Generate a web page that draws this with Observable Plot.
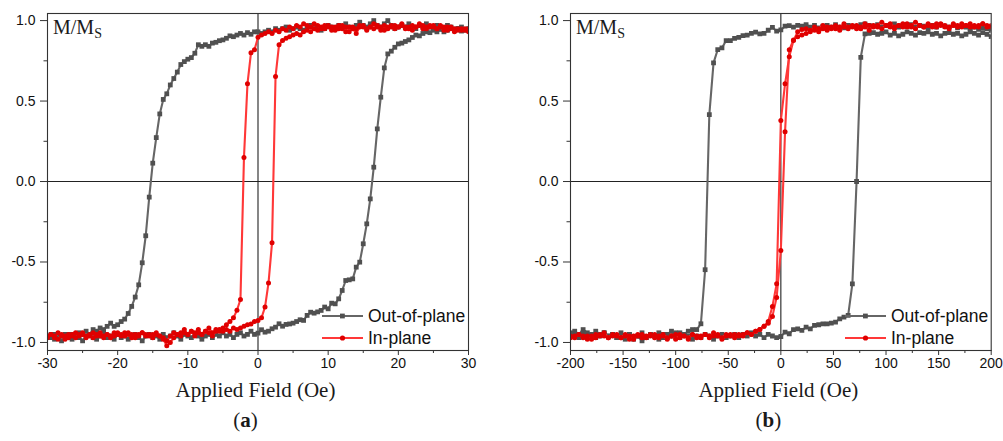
<!DOCTYPE html>
<html><head><meta charset="utf-8">
<script src="https://cdn.jsdelivr.net/npm/d3@7"></script>
<script src="https://cdn.jsdelivr.net/npm/@observablehq/plot@0.6"></script>
<style>
html,body{margin:0;padding:0;background:#fff;}
#root{position:relative;width:1003px;height:441px;overflow:hidden;background:#fff;}
.panel{position:absolute;top:0;height:441px;}
.panel svg{display:block;}
.serif{font-family:"Liberation Serif","Times New Roman",serif;color:#1a1a1a;white-space:nowrap;position:absolute;line-height:1;}
.xtitle{font-size:21px;transform:translateX(-50%);}
.cap{font-size:21px;transform:translateX(-50%);}
.mms{font-size:20px;}
.mms sub{font-size:14px;vertical-align:-4px;line-height:0;}
.legend{position:absolute;}
</style></head><body><div id="root"></div>
<script>
// ---- Panel (a): applied field sweep (Oe) and normalised magnetisation ----
const fieldA = [-30,-29.5,-29,-28.5,-28,-27.5,-27,-26.5,-26,-25.5,-25,-24.5,-24,-23.5,-23,-22.5,-22,-21.5,-21,-20.5,-20,-19.5,-19,-18.5,-18,-17.5,-17,-16.5,-16,-15.5,-15,-14.5,-14,-13.5,-13,-12.5,-12,-11.5,-11,-10.5,-10,-9.5,-9,-8.5,-8,-7.5,-7,-6.5,-6,-5.5,-5,-4.5,-4,-3.5,-3,-2.5,-2,-1.5,-1,-0.5,0,0.5,1,1.5,2,2.5,3,3.5,4,4.5,5,5.5,6,6.5,7,7.5,8,8.5,9,9.5,10,10.5,11,11.5,12,12.5,13,13.5,14,14.5,15,15.5,16,16.5,17,17.5,18,18.5,19,19.5,20,20.5,21,21.5,22,22.5,23,23.5,24,24.5,25,25.5,26,26.5,27,27.5,28,28.5,29,29.5,30];
const outOfPlaneDownA = [-0.96,-0.97,-0.95,-0.97,-0.96,-0.95,-0.97,-0.95,-0.96,-0.94,-0.95,-0.93,-0.95,-0.92,-0.93,-0.91,-0.92,-0.90,-0.88,-0.90,-0.89,
 -0.87,-0.855,-0.82,-0.776,-0.718,-0.642,-0.505,-0.337,-0.097,0.114,0.273,0.42,0.51,0.545,0.60,0.64,0.68,0.727,0.745,0.76,
 0.77,0.797,0.85,0.84,0.85,0.84,0.86,0.865,0.875,0.88,0.89,0.905,0.90,0.91,0.92,0.91,0.925,0.915,0.93,0.93,
 0.92,0.93,0.94,0.93,0.95,0.94,0.95,0.96,0.94,0.95,0.96,0.95,0.94,0.96,0.97,0.95,0.96,0.94,0.95,0.97,
 0.96,0.95,0.97,0.96,0.98,0.96,0.95,0.97,0.99,0.97,0.96,0.98,1.0,0.97,0.96,0.98,1.0,0.97,0.95,0.96,
 0.97,0.96,0.98,0.96,0.95,0.97,0.96,0.98,0.96,0.95,0.97,0.96,0.95,0.97,0.96,0.94,0.95,0.96,0.94,0.95];
const outOfPlaneUpA = [-0.97,-0.95,-0.98,-0.96,-0.99,-0.97,-0.95,-0.98,-0.96,-0.97,-0.99,-0.96,-0.95,-0.97,-0.98,-0.96,-0.94,-0.97,-0.96,-0.98,
 -0.95,-0.97,-0.96,-0.98,-0.96,-0.95,-0.97,-0.99,-0.96,-0.95,-0.97,-0.96,-0.98,-0.95,-0.97,-0.96,-0.94,-0.96,-0.98,-0.95,
 -0.96,-0.97,-0.95,-0.96,-0.98,-0.96,-0.95,-0.97,-0.95,-0.96,-0.94,-0.96,-0.95,-0.97,-0.95,-0.94,-0.96,-0.95,-0.93,-0.95,
 -0.942,-0.921,-0.936,-0.93,-0.915,-0.905,-0.884,-0.899,-0.888,-0.885,-0.88,-0.87,-0.859,-0.863,-0.832,-0.812,-0.818,-0.81,-0.801,-0.78,
 -0.791,-0.756,-0.76,-0.729,-0.677,-0.615,-0.611,-0.605,-0.532,-0.501,-0.387,-0.263,-0.108,0.089,0.327,0.524,0.706,0.793,0.81,0.834,
 0.855,0.86,0.87,0.88,0.895,0.91,0.905,0.92,0.93,0.925,0.94,0.93,0.945,0.93,0.94,0.955,0.94,0.95,0.935,0.945,0.94];
const inPlaneDownA = [-0.96,-0.95,-0.97,-0.94,-0.96,-0.98,-0.95,-0.96,-0.97,-0.95,-0.94,-0.96,-0.95,-0.97,-0.96,-0.94,-0.96,-0.95,-0.97,-0.96,
 -0.94,-0.95,-0.96,-0.94,-0.95,-0.97,-0.95,-0.94,-0.96,-0.95,-0.97,-0.95,-0.96,-0.98,-1.02,-1.0,-0.97,-0.95,-0.94,-0.92,
 -0.95,-0.93,-0.94,-0.92,-0.95,-0.93,-0.91,-0.94,-0.92,-0.93,-0.91,-0.89,
 -0.87,-0.847,-0.80,-0.733,0.149,0.607,0.80,0.818,0.896,
 0.91,0.92,0.93,0.92,0.94,0.93,0.95,0.94,0.96,0.95,0.97,0.96,0.98,0.97,0.96,0.98,0.97,0.95,0.97,0.96,
 0.94,0.96,0.95,0.97,0.93,0.96,0.95,0.92,0.96,0.97,0.95,0.96,0.98,0.96,0.94,0.97,0.95,0.96,0.97,0.96,
 0.98,0.96,0.95,0.97,0.96,0.98,0.97,0.95,0.96,0.97,0.95,0.96,0.94,0.96,0.95,0.93,0.95,0.94,0.95,0.93];
const inPlaneUpA = [-0.97,-0.95,-0.96,-0.98,-0.95,-0.96,-0.97,-0.95,-0.94,-0.96,-0.95,-0.97,-0.96,-0.94,-0.95,-0.96,-0.97,-0.95,-0.96,-0.94,
 -0.95,-0.96,-0.94,-0.95,-0.97,-0.95,-0.96,-0.94,-0.95,-0.96,-0.95,-0.94,-0.96,-0.97,-0.99,-0.96,-0.94,-0.95,-0.96,-0.94,
 -0.95,-0.93,-0.96,-0.94,-0.95,-0.93,-0.94,-0.96,-0.93,-0.92,-0.93,-0.92,-0.93,-0.91,-0.92,
 -0.91,-0.90,-0.89,-0.885,-0.87,-0.863,-0.847,-0.78,-0.63,-0.381,0.652,0.85,0.876,0.89,
 0.90,0.91,0.92,0.91,0.93,0.94,0.93,0.95,0.94,0.96,0.95,0.97,0.96,0.94,0.97,0.95,0.96,0.93,0.96,0.95,
 0.97,0.96,0.94,0.96,0.95,0.97,0.96,0.94,0.96,0.97,0.95,0.96,0.97,0.95,0.96,0.94,0.96,0.97,0.95,0.96,
 0.97,0.96,0.95,0.97,0.96,0.94,0.96,0.95,0.94,0.95,0.94,0.95];

// ---- Panel (b) ----
const fieldB = [-200,-196,-192,-188,-184,-180,-176,-172,-168,-164,-160,-156,-152,-148,-144,-140,-136,-132,-128,-124,-120,-116,-112,-108,-104,-100,-96,-92,-88,-84,-80,-76,-72,-68,-64,-60,-56,-52,-48,-44,-40,-36,-32,-28,-24,-20,-16,-12,-8,-4,0,4,8,12,16,20,24,28,32,36,40,44,48,52,56,60,64,68,72,76,80,84,88,92,96,100,104,108,112,116,120,124,128,132,136,140,144,148,152,156,160,164,168,172,176,180,184,188,192,196,200];
const outOfPlaneDownB = [-0.94,-0.93,-0.95,-0.92,-0.94,-0.96,-0.93,-0.95,-0.94,-0.96,-0.95,-0.97,-0.94,-0.96,-0.95,-0.98,-0.96,-0.94,-0.97,-0.95,
 -0.96,-0.94,-0.97,-0.95,-0.93,-0.96,-0.94,-0.95,-0.93,-0.92,-0.92,
 -0.884,-0.548,0.416,0.737,0.82,0.83,0.876,0.876,0.89,0.896,0.907,0.91,0.92,0.928,0.917,0.921,0.94,0.958,0.934,0.942,
 0.965,0.969,0.96,0.97,0.965,0.975,0.96,0.97,0.955,0.965,0.97,0.96,0.975,0.96,0.955,0.97,0.965,0.96,0.975,0.98,
 0.97,0.965,0.975,0.96,0.97,0.965,0.98,0.96,0.97,0.965,0.975,0.96,0.97,0.965,0.955,0.97,0.96,0.975,0.965,0.96,
 0.97,0.955,0.965,0.96,0.95,0.96,0.945,0.955,0.95,0.94];
const outOfPlaneUpB = [-0.96,-0.95,-0.97,-0.94,-0.96,-0.95,-0.97,-0.96,-0.94,-0.96,-0.95,-0.97,-0.96,-0.98,-0.95,-0.97,-0.96,-0.99,-0.97,-0.95,
 -0.96,-0.98,-0.95,-0.97,-0.96,-0.94,-0.97,-0.95,-0.96,-0.98,-0.96,-0.97,-0.95,-0.96,-0.98,-0.96,-0.95,-0.97,-0.96,-0.95,
 -0.97,-0.95,-0.96,-0.94,-0.96,-0.95,-0.97,-0.95,-0.96,-0.97,-0.963,
 -0.936,-0.946,-0.92,-0.915,-0.925,-0.905,-0.915,-0.894,-0.89,-0.884,-0.884,-0.88,-0.874,-0.853,-0.843,-0.832,-0.636,0.0,0.772,0.917,0.92,
 0.925,0.915,0.92,0.93,0.91,0.92,0.905,0.915,0.93,0.92,0.91,0.925,0.92,0.93,0.915,0.92,0.905,0.92,0.925,0.915,
 0.92,0.905,0.915,0.93,0.92,0.91,0.925,0.915,0.90];
const inPlaneDownB = [-0.97,-0.96,-0.95,-0.97,-0.96,-0.98,-0.95,-0.96,-0.94,-0.97,-0.96,-0.95,-0.97,-0.96,-0.98,-0.96,-0.95,-0.97,-0.96,-0.95,
 -0.97,-0.96,-0.95,-0.97,-0.96,-0.98,-0.95,-0.96,-0.97,-0.95,-0.96,-0.97,-0.95,-0.96,-0.94,-0.96,-0.97,-0.95,-0.96,-0.95,
 -0.96,-0.95,-0.94,-0.95,-0.93,-0.92,-0.90,-0.87,
 -0.776,-0.636,0.379,0.607,0.776,0.876,0.93,0.945,
 0.95,0.94,0.96,0.95,0.97,0.96,0.95,0.97,0.96,0.98,0.96,0.97,0.95,0.96,0.98,0.97,0.96,0.97,0.99,0.97,
 0.98,0.96,0.97,0.98,0.96,0.97,0.99,0.97,0.96,0.98,0.97,0.96,0.98,0.97,0.96,0.98,0.97,0.96,0.97,0.98,
 0.96,0.97,0.98,0.96,0.97];
const inPlaneUpB = [-0.96,-0.97,-0.95,-0.96,-0.98,-0.96,-0.97,-0.95,-0.96,-0.97,-0.95,-0.96,-0.97,-0.95,-0.96,-0.98,-0.96,-0.95,-0.97,-0.96,
 -0.95,-0.97,-0.96,-0.98,-0.96,-0.95,-0.97,-0.96,-0.98,-0.95,-0.97,-0.96,-0.95,-0.97,-0.96,-0.95,-0.98,-0.96,-0.95,-0.97,
 -0.95,-0.96,-0.94,-0.95,-0.93,-0.92,-0.90,
 -0.88,-0.838,-0.72,-0.429,0.31,0.818,0.88,0.90,0.91,
 0.92,0.93,0.94,0.93,0.95,0.94,0.96,0.95,0.94,0.96,0.95,0.96,0.97,0.95,0.96,0.94,0.97,0.96,0.95,0.97,
 0.96,0.95,0.97,0.96,0.98,0.96,0.95,0.97,0.96,0.97,0.96,0.98,0.97,0.96,0.95,0.97,0.96,0.98,0.97,0.96,
 0.97,0.96,0.98,0.97,0.96];

// ---- Axis ticks and labels ----
const xMajorA = [-30,-20,-10,0,10,20,30];
const xMinorA = [-25,-15,-5,5,15,25];
const xMajorB = [-200,-150,-100,-50,0,50,100,150,200];
const xMinorB = [-175,-125,-75,-25,25,75,125,175];
const yMajor = [-1,-0.5,0,0.5,1];
const yMinor = [-0.75,-0.25,0.25,0.75];
const seriesNames = ["Out-of-plane","In-plane"];
const xTitle = "Applied Field (Oe)";
const captions = ["a","b"];

const GRAY_LINE = "#666666", GRAY_DOT = "#505050", RED_LINE = "#ff3838", RED_DOT = "#e00000";

const root = document.getElementById("root");

function rows(field, ys, branch) {
  return ys.map((m, i) => ({h: field[i], m, branch}));
}

function makePanel(cfg) {
  const {left, width, mLeft, mRight, field, gDown, gUp, rDown, rUp, xDomain, xMajor, xMinor, caption, capShift} = cfg;
  const gray = [...rows(field, gDown, "down"), ...rows(field, gUp, "up")];
  const red = [...rows(field, rDown, "down"), ...rows(field, rUp, "up")];
  const H = 376, mTop = 13, mBottom = 26;
  const plot = Plot.plot({
    width, height: H, marginLeft: mLeft, marginRight: mRight, marginTop: mTop, marginBottom: mBottom,
    x: {domain: xDomain},
    y: {domain: [-1.05, 1.044]},
    style: {fontFamily: "'Liberation Sans', Arial, sans-serif", fontSize: "14px", color: "#111", background: "white", overflow: "visible"},
    marks: [
      Plot.ruleY([0], {stroke: "#222", strokeWidth: 1.1}),
      Plot.ruleX([0], {stroke: "#222", strokeWidth: 1.1}),
      Plot.line(gray, {x: "h", y: "m", z: "branch", stroke: GRAY_LINE, strokeWidth: 2.1, clip: true}),
      Plot.dot(gray, {x: "h", y: "m", symbol: "square", r: 2.7, fill: GRAY_DOT, stroke: "none", clip: true}),
      Plot.line(red, {x: "h", y: "m", z: "branch", stroke: RED_LINE, strokeWidth: 2.1, clip: true}),
      Plot.dot(red, {x: "h", y: "m", symbol: "circle", r: 2.5, fill: RED_DOT, stroke: "none", clip: true}),
      Plot.frame({stroke: "#333", strokeWidth: 1.1}),
      Plot.axisX(xMajor, {tickSize: 5, tickPadding: 3, fontSize: 14, tickFormat: d => String(d), label: null, stroke: "#333", fill: "#111"}),
      Plot.axisX(xMinor, {tickSize: 3, tickFormat: () => "", label: null, stroke: "#333"}),
      Plot.axisY(yMajor, {tickSize: 7, tickPadding: 5, fontSize: 14, tickFormat: d => d.toFixed(1), label: null, stroke: "#333", fill: "#111"}),
      Plot.axisY(yMinor, {tickSize: 3.5, tickFormat: () => "", label: null, stroke: "#333"})
    ]
  });
  const div = document.createElement("div");
  div.className = "panel";
  div.style.left = left + "px";
  div.style.width = width + "px";
  div.appendChild(plot);

  const frameLeft = mLeft, frameRight = width - mRight, cx = (frameLeft + frameRight) / 2;

  const mm = document.createElement("div");
  mm.className = "serif mms";
  mm.style.left = (frameLeft + 6) + "px";
  mm.style.top = "17px";
  mm.innerHTML = "M/M<sub>S</sub>";
  div.appendChild(mm);

  const xt = document.createElement("div");
  xt.className = "serif xtitle";
  xt.style.left = (cx - 2) + "px";
  xt.style.top = "380px";
  xt.textContent = xTitle;
  div.appendChild(xt);

  const cp = document.createElement("div");
  cp.className = "serif cap";
  cp.style.left = (cx + capShift) + "px";
  cp.style.top = "410px";
  cp.innerHTML = "(<b>" + caption + "</b>)";
  div.appendChild(cp);

  const ns = "http://www.w3.org/2000/svg";
  const lg = document.createElementNS(ns, "svg");
  lg.setAttribute("class", "legend");
  lg.setAttribute("width", 150); lg.setAttribute("height", 46);
  lg.style.position = "absolute";
  lg.style.left = (frameRight - 146) + "px";
  lg.style.top = "304px";
  const items = [
    {name: seriesNames[0], line: GRAY_LINE, dot: GRAY_DOT, sym: "square", y: 12},
    {name: seriesNames[1], line: RED_LINE, dot: RED_DOT, sym: "circle", y: 34}
  ];
  for (const it of items) {
    const l = document.createElementNS(ns, "line");
    l.setAttribute("x1", 0); l.setAttribute("x2", 41);
    l.setAttribute("y1", it.y); l.setAttribute("y2", it.y);
    l.setAttribute("stroke", it.line); l.setAttribute("stroke-width", 2.1);
    lg.appendChild(l);
    let s;
    if (it.sym === "square") {
      s = document.createElementNS(ns, "rect");
      s.setAttribute("x", 18); s.setAttribute("y", it.y - 2.4);
      s.setAttribute("width", 4.8); s.setAttribute("height", 4.8);
    } else {
      s = document.createElementNS(ns, "circle");
      s.setAttribute("cx", 20.5); s.setAttribute("cy", it.y); s.setAttribute("r", 2.6);
    }
    s.setAttribute("fill", it.dot);
    lg.appendChild(s);
    const t = document.createElementNS(ns, "text");
    t.setAttribute("x", 46); t.setAttribute("y", it.y);
    t.setAttribute("dy", "0.36em");
    t.setAttribute("font-family", "'Liberation Sans', Arial, sans-serif");
    t.setAttribute("font-size", "17.5");
    t.setAttribute("fill", "#111");
    t.textContent = it.name;
    lg.appendChild(t);
  }
  div.appendChild(lg);
  root.appendChild(div);
}

makePanel({left: 0, width: 500, mLeft: 47, mRight: 32, field: fieldA,
  gDown: outOfPlaneDownA, gUp: outOfPlaneUpA, rDown: inPlaneDownA, rUp: inPlaneUpA,
  xDomain: [-30, 30], xMajor: xMajorA, xMinor: xMinorA, caption: captions[0], capShift: -12});
makePanel({left: 500, width: 503, mLeft: 70, mRight: 12.3, field: fieldB,
  gDown: outOfPlaneDownB, gUp: outOfPlaneUpB, rDown: inPlaneDownB, rUp: inPlaneUpB,
  xDomain: [-200, 200], xMajor: xMajorB, xMinor: xMinorB, caption: captions[1], capShift: -12});
</script></body></html>
